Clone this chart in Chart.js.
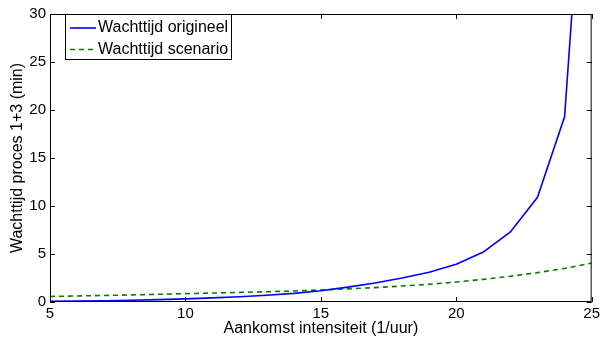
<!DOCTYPE html>
<html>
<head>
<meta charset="utf-8">
<script src="https://cdn.jsdelivr.net/npm/chart.js@4"></script>
<style>
  html, body { margin: 0; padding: 0; background: #fff; }
  #wrap { width: 603px; height: 341px; }
</style>
</head>
<body>
<div id="wrap"><canvas id="waitChart" width="603" height="341"></canvas></div>
<script>
// data
const arrivals = [5, 6, 7, 8, 9, 10, 11, 12, 13, 14, 15, 16, 17, 18, 19, 20, 21, 22, 23, 24, 25];
const waitOriginal = [0.08, 0.1, 0.13, 0.18, 0.25, 0.33, 0.43, 0.55, 0.7, 0.9, 1.17, 1.55, 1.98, 2.5, 3.1, 3.93, 5.2, 7.3, 10.9, 19.3, 59];
const waitScenario = [0.58, 0.63, 0.68, 0.74, 0.8, 0.87, 0.93, 1.0, 1.07, 1.15, 1.25, 1.37, 1.5, 1.66, 1.85, 2.08, 2.36, 2.68, 3.06, 3.5, 4.06];
const xTicks = [5, 10, 15, 20, 25];
const yTicks = [0, 5, 10, 15, 20, 25, 30];
const seriesLabels = ['Wachttijd origineel', 'Wachttijd scenario'];

const FONT = 'Arial, "Liberation Sans", sans-serif';

// MATLAB style box with inward ticks
const boxPlugin = {
  id: 'box',
  afterDatasetsDraw(chart) {
    const { ctx, chartArea: a, scales } = chart;
    ctx.save();
    ctx.strokeStyle = '#000';
    ctx.lineWidth = 1;
    ctx.beginPath();
    xTicks.forEach(v => {
      const x = Math.round(scales.x.getPixelForValue(v)) + 0.5;
      ctx.moveTo(x, a.bottom); ctx.lineTo(x, a.bottom - 5);
      ctx.moveTo(x, a.top); ctx.lineTo(x, a.top + 5);
    });
    yTicks.forEach(v => {
      const y = Math.round(scales.y.getPixelForValue(v)) + 0.5;
      ctx.moveTo(a.left, y); ctx.lineTo(a.left + 5, y);
      ctx.moveTo(a.right, y); ctx.lineTo(a.right - 5, y);
    });
    ctx.stroke();
    ctx.strokeRect(a.left + 0.5, a.top + 0.5, a.right - a.left - 1, a.bottom - a.top - 1);

    // legend box in the top left corner
    const lx = a.left + 15, ly = a.top, lw = 167, lh = 46;
    ctx.fillStyle = '#fff';
    ctx.fillRect(lx, ly, lw, lh);
    ctx.strokeRect(lx + 0.5, ly + 0.5, lw - 1, lh - 1);
    ctx.font = '16px ' + FONT;
    ctx.textBaseline = 'middle';
    chart.data.datasets.forEach((ds, i) => {
      const cy = ly + 14 + i * 21.5;
      ctx.beginPath();
      ctx.strokeStyle = ds.borderColor;
      ctx.lineWidth = ds.borderWidth;
      ctx.setLineDash(ds.borderDash || []);
      ctx.moveTo(lx + 5, cy); ctx.lineTo(lx + 31, cy);
      ctx.stroke();
      ctx.setLineDash([]);
      ctx.fillStyle = '#000';
      ctx.fillText(ds.label, lx + 33, cy);
    });
    ctx.restore();
  }
};

new Chart(document.getElementById('waitChart'), {
  type: 'line',
  data: {
    labels: arrivals,
    datasets: [
      {
        label: seriesLabels[0],
        data: arrivals.map((x, i) => ({ x: x, y: waitOriginal[i] })),
        borderColor: '#0000ff',
        borderWidth: 1.6,
        pointRadius: 0,
        tension: 0
      },
      {
        label: seriesLabels[1],
        data: arrivals.map((x, i) => ({ x: x, y: waitScenario[i] })),
        borderColor: '#008000',
        borderWidth: 1.6,
        borderDash: [5, 4],
        pointRadius: 0,
        tension: 0
      }
    ]
  },
  options: {
    responsive: false,
    animation: false,
    layout: { padding: { top: 14, right: 10, left: 0, bottom: 0 } },
    plugins: { legend: { display: false }, tooltip: { enabled: false } },
    scales: {
      x: {
        type: 'linear',
        min: 5, max: 25,
        afterBuildTicks: s => { s.ticks = xTicks.map(v => ({ value: v })); },
        afterFit: s => { s.height = 39; },
        grid: { display: false, drawTicks: false },
        border: { display: false },
        ticks: { color: '#000', font: { family: FONT, size: 15 }, padding: 3, maxRotation: 0 },
        title: { display: true, text: 'Aankomst intensiteit (1/uur)', color: '#000', font: { family: FONT, size: 16 }, padding: { top: 0, bottom: 3 } }
      },
      y: {
        min: 0, max: 30,
        afterBuildTicks: s => { s.ticks = yTicks.map(v => ({ value: v })); },
        afterFit: s => { s.width = 50; },
        grid: { display: false, drawTicks: false },
        border: { display: false },
        ticks: { color: '#000', font: { family: FONT, size: 15 }, padding: 4 },
        title: { display: true, text: 'Wachttijd proces 1+3 (min)', color: '#000', font: { family: FONT, size: 16 }, padding: { top: 8, bottom: 0 } }
      }
    }
  },
  plugins: [boxPlugin]
});
</script>
</body>
</html>
